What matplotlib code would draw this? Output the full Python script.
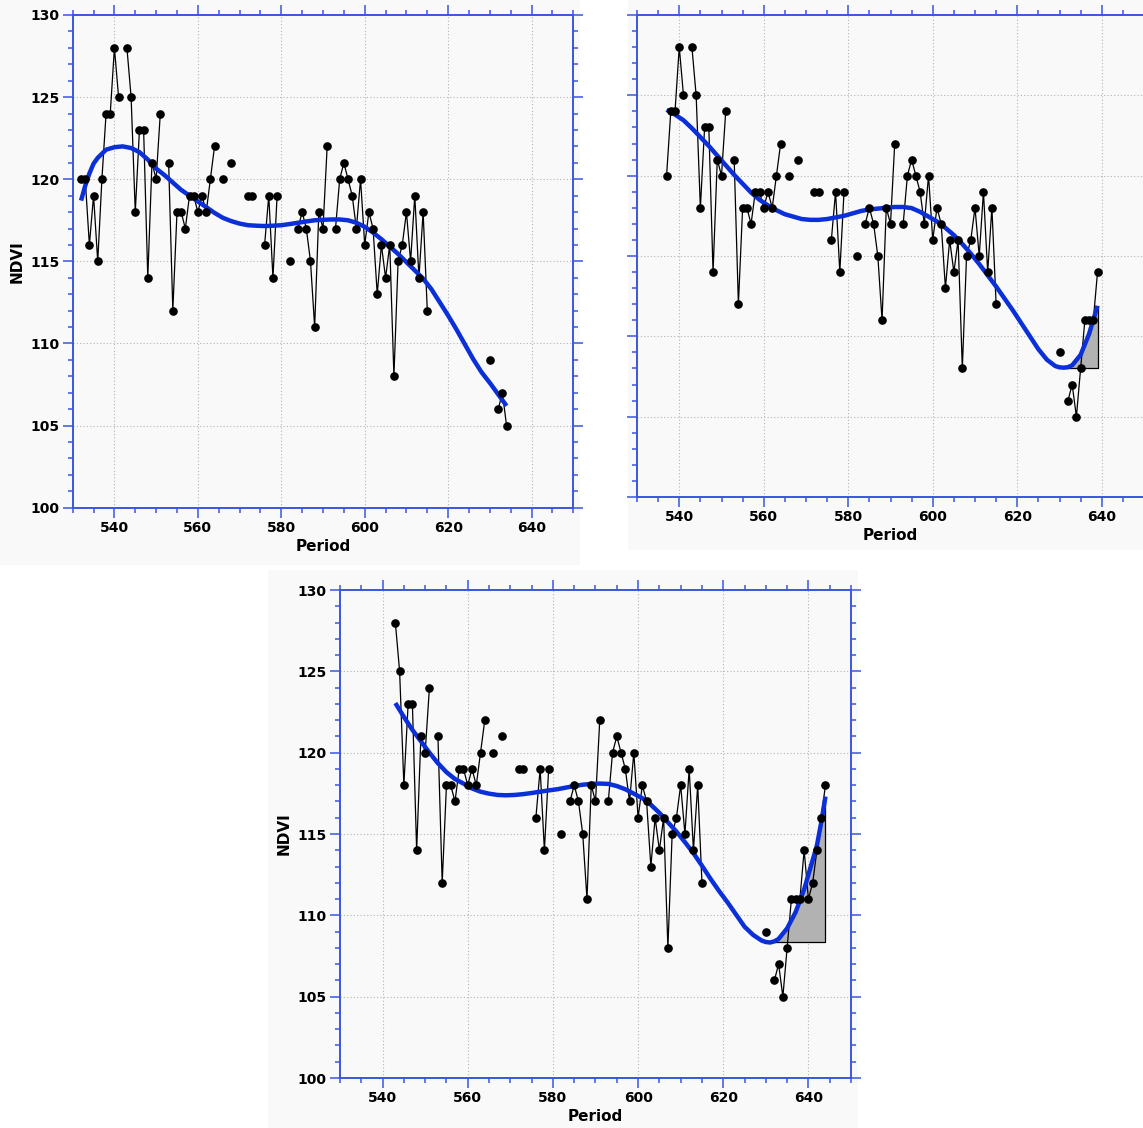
import numpy as np
import matplotlib
matplotlib.use("Agg")
import matplotlib.pyplot as plt
from matplotlib.ticker import MultipleLocator
from matplotlib.patches import Rectangle

nan = np.nan

# ---------------- data ----------------
period = list(range(532, 645))
ndvi = [
    120, 120, 116, 119, 115, 120, 124, 124, 128, 125,   # 532-541
    nan, 128, 125, 118, 123, 123, 114, 121, 120, 124,   # 542-551
    nan, 121, 112, 118, 118, 117, 119, 119, 118, 119,   # 552-561
    118, 120, 122, nan, 120, nan, 121, nan, nan, nan,   # 562-571
    119, 119, nan, nan, 116, 119, 114, 119, nan, nan,   # 572-581
    115, nan, 117, 118, 117, 115, 111, 118, 117, 122,   # 582-591
    nan, 117, 120, 121, 120, 119, 117, 120, 116, 118,   # 592-601
    117, 113, 116, 114, 116, 108, 115, 116, 118, 115,   # 602-611
    119, 114, 118, 112, nan, nan, nan, nan, nan, nan,   # 612-621
    nan, nan, nan, nan, nan, nan, nan, nan, 109, nan,   # 622-631
    106, 107, 105, 108, 111, 111, 111, 114, 111, 112,   # 632-641
    114, 116, 118,                                      # 642-644
]

# data window shown in each panel (first, last period)
window_start = [532, 537, 542]
window_end = [634, 639, 644]

# smooth fitted curve
curve1_x = [532, 533, 534, 535, 536, 538, 540, 542, 544, 546, 548, 550, 552, 554,
            556, 558, 560, 562, 564, 566, 568, 570, 572, 574, 576, 578, 580, 582,
            584, 586, 588, 590, 592, 594, 596, 598, 600, 602, 604, 606, 608, 610,
            612, 614, 616, 618, 620, 622, 624, 626, 628, 630, 632, 634]
curve1_y = [118.7, 119.6, 120.35, 120.95, 121.3, 121.8, 121.95, 122.0, 121.9, 121.65,
            121.2, 120.65, 120.25, 119.8, 119.35, 119.0, 118.65, 118.3, 117.95, 117.65,
            117.45, 117.3, 117.2, 117.17, 117.15, 117.17, 117.2, 117.27, 117.35, 117.43,
            117.5, 117.53, 117.55, 117.55, 117.5, 117.35, 117.1, 116.75, 116.35, 115.9,
            115.45, 114.95, 114.45, 113.95, 113.3, 112.5, 111.7, 110.85, 109.95, 109.05,
            108.25, 107.6, 106.9, 106.2]

curve2_x = [537, 539, 541, 543, 545, 547, 549, 551, 553, 555, 557, 559, 561, 563,
            565, 567, 569, 571, 573, 575, 577, 579, 581, 583, 585, 587, 589, 591,
            593, 595, 597, 599, 601, 603, 605, 607, 609, 611, 613, 615, 617, 619,
            621, 623, 625, 627, 629, 630, 631, 632, 633, 635, 637, 639]
curve2_y = [124.1, 123.8, 123.45, 122.95, 122.4, 121.85, 121.25, 120.65, 120.05, 119.5,
            118.95, 118.5, 118.15, 117.85, 117.6, 117.45, 117.3, 117.25, 117.25, 117.3,
            117.4, 117.5, 117.65, 117.8, 117.9, 117.95, 118.0, 118.05, 118.05, 117.98,
            117.75, 117.45, 117.15, 116.75, 116.3, 115.75, 115.15, 114.5, 113.8, 113.1,
            112.35, 111.6, 110.8, 110.0, 109.2, 108.55, 108.15, 108.07, 108.05, 108.08,
            108.2, 108.85, 110.15, 111.9]

curve3_x = [543, 545, 547, 549, 551, 553, 555, 557, 559, 561, 563, 565, 567, 569,
            571, 573, 575, 577, 579, 581, 583, 585, 587, 589, 591, 593, 595, 597,
            599, 601, 603, 605, 607, 609, 611, 613, 615, 617, 619, 621, 623, 625,
            627, 629, 630, 631, 632, 633, 635, 637, 639, 641, 642, 643, 644]
curve3_y = [123.05, 122.2, 121.4, 120.7, 120.0, 119.35, 118.8, 118.38, 118.1, 117.8,
            117.6, 117.48, 117.4, 117.38, 117.4, 117.45, 117.52, 117.6, 117.68, 117.75,
            117.85, 117.95, 118.03, 118.08, 118.1, 118.08, 117.95, 117.75, 117.48, 117.2,
            116.8, 116.3, 115.72, 115.15, 114.5, 113.82, 113.05, 112.25, 111.5, 110.8,
            110.05, 109.3, 108.8, 108.45, 108.36, 108.33, 108.4, 108.55, 109.2, 110.2,
            111.6, 113.4, 114.3, 115.7, 117.3]

curves_x = [curve1_x, curve2_x, curve3_x]
curves_y = [curve1_y, curve2_y, curve3_y]
# shaded area: from the curve minimum to the window end (panels 2 and 3)
fill_start = [None, 631, 632]

x_ticks = [540, 560, 580, 600, 620, 640]
y_ticks = [100, 105, 110, 115, 120, 125, 130]

# ---------------- style ----------------
W, H = 1143, 1128
fig = plt.figure(figsize=(W / 100, H / 100), dpi=100, facecolor="white")

SPINE = "#3a55e0"
CURVE = "#0b2fd8"
BG = "#f9f9f9"

# panel backgrounds (pixel boxes: x0, y0, x1, y1)
bg_boxes = [(0, 0, 580, 565), (628, 0, 1143, 550), (268, 570, 858, 1128)]
for (x0, y0, x1, y1) in bg_boxes:
    fig.patches.append(Rectangle((x0 / W, 1 - y1 / H), (x1 - x0) / W, (y1 - y0) / H,
                                 transform=fig.transFigure, facecolor=BG,
                                 edgecolor="none", zorder=-10))

# axes boxes in pixels: left, top, right, bottom
ax_boxes = [(72.7, 15, 573.3, 507.7), (637, 15, 1144, 497), (340, 590, 851, 1078)]
show_ylab = [True, False, True]

period_arr = np.array(period, dtype=float)
ndvi_arr = np.array(ndvi, dtype=float)

for i, (l, t, r, b) in enumerate(ax_boxes):
    ax = fig.add_axes([l / W, 1 - b / H, (r - l) / W, (b - t) / H])
    ax.set_facecolor(BG)
    ax.set_xlim(530, 650)
    ax.set_ylim(100, 130)
    ax.set_xticks(x_ticks)
    ax.set_yticks(y_ticks)
    ax.xaxis.set_minor_locator(MultipleLocator(5))
    ax.yaxis.set_minor_locator(MultipleLocator(1))
    for s in ax.spines.values():
        s.set_color(SPINE)
        s.set_linewidth(1.4)
    ax.tick_params(which="both", direction="out", top=True, right=True,
                   labeltop=False, labelright=False, color=SPINE, width=1.1,
                   labelcolor="black")
    ax.tick_params(which="major", length=7, pad=2.5)
    ax.tick_params(which="minor", length=3.6)
    ax.tick_params(axis="both", labelsize=10)
    for lab in ax.get_xticklabels() + ax.get_yticklabels():
        lab.set_fontweight("bold")
    if not show_ylab[i]:
        ax.tick_params(axis="y", labelleft=False)
    else:
        ax.set_ylabel("NDVI", fontsize=11, fontweight="bold", labelpad=4)
    ax.set_xlabel("Period", fontsize=11, fontweight="bold", labelpad=3)
    ax.grid(True, which="major", color="#b4b4b4", linestyle=(0, (1, 2)), linewidth=0.8)
    ax.set_axisbelow(True)

    m = (period_arr >= window_start[i]) & (period_arr <= window_end[i])
    px, py = period_arr[m], ndvi_arr[m]

    cx = np.array(curves_x[i], dtype=float)
    cy = np.array(curves_y[i], dtype=float)

    if fill_start[i] is not None:
        base = cy.min()
        sel = cx >= fill_start[i]
        fx = cx[sel]
        fy = cy[sel]
        ax.fill_between(fx, fy, base, color="#b2b2b2", zorder=2, linewidth=0)
        ax.plot([fx[0], fx[-1], fx[-1]], [base, base, fy[-1]], color="black",
                linewidth=0.9, zorder=2.5)

    ax.plot(px, py, color="black", linewidth=0.9, zorder=3)
    ax.plot(cx, cy, color=CURVE, linewidth=3.2, solid_capstyle="butt", zorder=4)
    ax.plot(px, py, linestyle="none", marker="o", markersize=5.2,
            color="black", zorder=5)

fig.savefig("out.png", dpi=100, facecolor="white")
